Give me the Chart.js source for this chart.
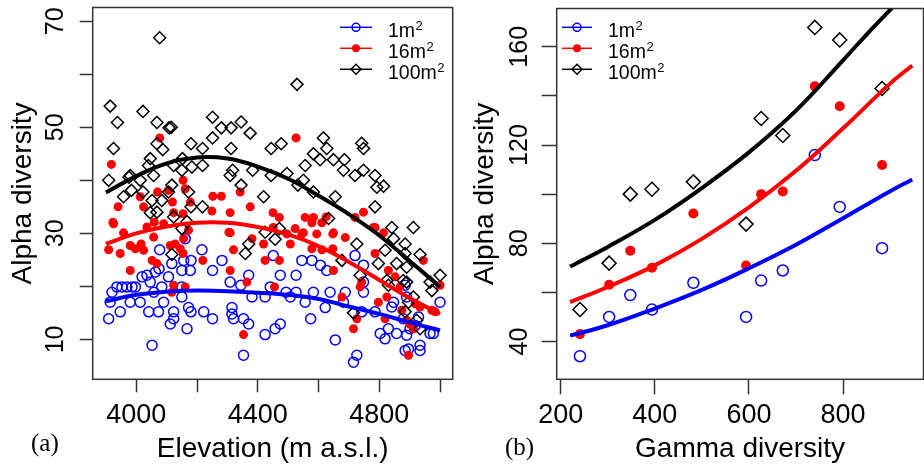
<!DOCTYPE html>
<html>
<head>
<meta charset="utf-8">
<script src="https://cdn.jsdelivr.net/npm/chart.js@4.4.0/dist/chart.umd.min.js"></script>
<style>
  html, body { margin: 0; padding: 0; background: #fff; overflow: hidden; }
  #wrap { position: relative; width: 924px; height: 467px; overflow: hidden; }
  #chartA { position: absolute; left: 0; top: 0; }
  #chartB { position: absolute; left: 462px; top: 0; }
</style>
</head>
<body>
<div id="wrap">
  <canvas id="chartA" width="462" height="467" style="width:462px;height:467px"></canvas>
  <canvas id="chartB" width="470" height="467" style="width:470px;height:467px"></canvas>
</div>
<script>
// ---------- panel (a): alpha diversity along elevation ----------
const elev1 = [3909, 3914, 3920, 3947, 3936, 3953, 3969, 3986, 3997, 3980, 4013, 4019, 4035, 4046, 4041, 4073,
  4052, 4063, 4077, 4084, 4090, 4106, 4117, 4123, 4112, 4123, 4150, 4156, 4150, 4150, 4167, 4172, 4178, 4180,
  4180, 4161, 4216, 4222, 4251, 4251, 4282, 4309, 4315, 4315, 4320, 4344, 4353, 4370, 4353, 4370, 4381, 4424,
  4424, 4441, 4451, 4457, 4474, 4474, 4493, 4507, 4526, 4526, 4545, 4556, 4574, 4578, 4583, 4606, 4622, 4627,
  4638, 4655, 4682, 4688, 4715, 4726, 4720, 4748, 4748, 4748, 4742, 4786, 4803, 4819, 4830, 4847, 4857, 4879,
  4885, 4896, 4890, 4901, 4918, 4934, 4934, 4929, 4890, 4885, 4967, 4978, 5000, 4841, 4058, 4075];
const alpha1 = [13.9, 17.0, 18.9, 15.2, 19.9, 19.9, 19.9, 19.9, 19.9, 17.0, 17.0, 21.8, 22.1, 20.8, 15.2, 15.2,
  8.9, 22.7, 26.9, 19.9, 17.0, 21.8, 24.3, 15.2, 12.9, 13.9, 23.0, 24.9, 19.9, 18.0, 12.0, 16.0, 23.0, 24.9,
  15.2, 29.0, 26.9, 15.2, 23.0, 13.9, 24.9, 20.8, 16.0, 14.8, 13.9, 20.2, 13.9, 12.9, 7.0, 22.1, 18.0, 18.0,
  10.9, 19.9, 25.8, 12.0, 12.9, 22.1, 18.9, 18.0, 22.1, 18.9, 24.9, 17.0, 13.9, 24.9, 18.9, 24.0, 16.0, 23.0,
  18.9, 9.9, 17.0, 18.9, 5.7, 7.0, 25.8, 24.0, 20.8, 18.9, 15.2, 15.2, 11.1, 10.1, 12.0, 17.0, 11.1, 13.9,
  7.9, 8.2, 10.8, 12.0, 12.6, 8.9, 7.9, 14.2, 18.0, 20.2, 11.1, 11.1, 17.0, 16.1, 18.9, 23.3];

const elev16 = [3918, 3940, 3923, 3958, 4013, 4024, 4059, 4035, 4077, 4070, 4106, 4119, 4154, 4161, 4154, 4123,
  4178, 4252, 4280, 4249, 4309, 4309, 4342, 4375, 4450, 4471, 4526, 4523, 4550, 4556, 4583, 4578, 4611, 4625,
  4649, 4688, 4720, 4748, 4786, 4814, 3909, 3925, 3947, 3980, 3997, 4016, 4024, 3980, 4057, 4052, 4068, 4090,
  4112, 4128, 4145, 4154, 4156, 4172, 4123, 4117, 4161, 4219, 4309, 4320, 4364, 4353, 4381, 4419, 4424, 4451,
  4471, 4455, 4496, 4507, 4545, 4578, 4594, 4611, 4647, 4647, 4649, 4677, 4726, 4715, 4737, 4742, 4781, 4786,
  4797, 4825, 4819, 4830, 4852, 4868, 4874, 4890, 4901, 4896, 4918, 4934, 4912, 4973, 4984, 5000, 4945, 4305];
const alpha16 = [43.0, 35.0, 32.1, 30.1, 36.9, 35.0, 32.1, 31.2, 48.0, 37.8, 38.1, 35.9, 40.0, 38.4, 33.7, 33.9,
  35.9, 37.0, 37.0, 34.2, 33.9, 30.1, 37.8, 35.0, 33.9, 33.0, 48.0, 30.9, 30.1, 33.0, 33.0, 32.0, 32.0, 33.1,
  30.1, 29.2, 33.0, 34.0, 31.1, 30.1, 26.9, 31.8, 26.2, 27.7, 27.1, 28.0, 26.8, 23.0, 29.3, 24.9, 24.3, 31.8,
  27.7, 28.0, 27.1, 26.2, 29.0, 30.6, 20.2, 18.9, 19.9, 24.9, 23.0, 26.9, 20.8, 10.9, 29.0, 28.0, 24.9, 31.1,
  24.9, 19.9, 29.9, 28.0, 29.9, 27.1, 29.9, 26.9, 29.9, 27.1, 23.0, 18.0, 13.9, 12.0, 19.9, 20.8, 31.1, 26.2,
  17.0, 18.0, 13.9, 23.0, 21.8, 19.9, 15.5, 13.6, 12.9, 7.0, 16.7, 16.1, 12.0, 15.5, 15.2, 20.2, 24.9, 30.2];

const elev100 = [3914, 3938, 3925, 3909, 4022, 4068, 4077, 4108, 4115, 4068, 4087, 4180, 4218, 4251, 4251, 4280,
  4312, 4345, 4375, 4312, 4444, 4477, 4529, 4616, 4627, 4583, 4605, 4649, 4685, 4742, 4748, 4682, 4720, 4748,
  4786, 4792, 4814, 4786, 4655, 4633, 4556, 4550, 4532, 4583, 4496, 4444, 4419, 4424, 4471, 4383, 4345, 4317,
  4309, 4218, 4183, 4152, 4150, 4123, 4057, 4040, 4046, 3980, 4013, 4022, 3984, 3958, 4052, 4068, 4084, 4106,
  4117, 4172, 4123, 4150, 4167, 4180, 4218, 4046, 4117, 4359, 4370, 4457, 4677, 4726, 4737, 4715, 4841, 4912,
  4847, 4885, 4819, 4885, 4934, 4797, 4857, 4890, 4879, 4890, 4825, 4830, 4967, 5000, 4973, 4896, 4912, 4885,
  4923, 4934, 3976];
const alpha100 = [54.0, 50.9, 46.0, 40.0, 53.0, 50.9, 66.9, 49.9, 50.0, 46.9, 45.8, 46.9, 46.0, 51.9, 48.0, 49.9,
  49.9, 51.0, 48.9, 46.0, 46.0, 46.9, 58.1, 48.0, 46.0, 45.0, 43.9, 43.9, 43.9, 47.0, 46.0, 41.9, 40.9, 41.9,
  40.9, 38.7, 38.9, 35.0, 36.9, 32.8, 42.8, 40.0, 39.1, 37.8, 41.3, 40.9, 36.9, 30.2, 30.9, 41.9, 39.1, 41.9,
  40.9, 42.8, 42.5, 44.1, 41.9, 42.8, 40.9, 42.8, 44.1, 40.9, 40.0, 37.8, 38.1, 36.9, 36.2, 34.0, 36.2, 37.8,
  39.1, 37.8, 33.1, 30.9, 32.2, 35.0, 35.0, 33.9, 26.0, 26.2, 28.0, 28.9, 24.9, 28.0, 22.1, 15.0, 31.1, 31.1,
  29.0, 28.0, 26.8, 26.2, 26.0, 24.3, 24.3, 23.6, 21.1, 20.8, 21.1, 20.2, 20.8, 22.1, 19.2, 17.0, 18.0, 15.2,
  13.6, 12.0, 40.6];

// fitted curves
const elevFit = [3900, 4000, 4100, 4200, 4300, 4400, 4500, 4600, 4700, 4800, 4900, 5000];
const fitA1 = [17.2, 18.4, 19.0, 19.2, 19.1, 18.8, 18.4, 17.6, 16.2, 14.8, 13.2, 11.7];
const fitA16 = [28.0, 30.0, 31.3, 32.0, 32.0, 31.2, 29.8, 27.6, 24.6, 21.2, 17.8, 14.8];
const fitA100 = [37.7, 40.8, 43.2, 44.3, 44.1, 42.6, 40.3, 37.1, 33.6, 29.6, 24.8, 19.9];

const aXTicks = [4000, 4200, 4400, 4600, 4800, 5000];
const aXLabels = [4000, 4400, 4800];
const aYTicks = [10, 20, 30, 40, 50, 60, 70];
const aYLabels = [10, 30, 50, 70];

// ---------- panel (b): alpha vs gamma diversity ----------
const gamma = [241, 303, 348, 394, 482, 594, 626, 672, 740, 793, 883];
const bAlpha1 = [34.0, 50.0, 58.9, 53.0, 63.9, 50.0, 64.8, 68.9, 115.9, 94.8, 78.0];
const bAlpha16 = [43.0, 63.1, 77.0, 70.0, 92.1, 70.9, 100.0, 101.1, 143.9, 135.8, 111.9];
const bAlpha100 = [53.0, 71.9, 100.0, 102.0, 105.0, 87.8, 130.8, 123.9, 167.9, 162.8, 143.0];

const gammaFit = [220, 300, 400, 500, 600, 700, 800, 900, 947];
const fitB1 = [42.4, 46.6, 53.4, 61.0, 69.8, 79.4, 90.2, 101.2, 106.0];
const fitB16 = [56.0, 62.2, 71.0, 81.8, 94.6, 109.5, 126.8, 145.0, 152.4];
const gammaFit100 = [220, 300, 400, 500, 600, 700, 800, 850, 910];
const fitB100 = [70.5, 78.5, 89.5, 102.5, 117.0, 134.0, 154.5, 165.0, 177.0];

const bXTicks = [200, 400, 600, 800];
const bXLabels = [200, 400, 600, 800];
const bYTicks = [40, 60, 80, 100, 120, 140, 160];
const bYLabels = [40, 80, 120, 160];

const BLUE = '#0000ff', RED = '#ff0000', BLACK = '#000000';
const SANS = '"Liberation Sans", Arial, Helvetica, sans-serif';
const SERIF = '"Liberation Serif", "Times New Roman", serif';

Chart.defaults.font.family = SANS;
Chart.defaults.color = '#000';

function pts(xs, ys) {
  return xs.map((x, i) => ({ x: x, y: ys[i] }));
}

// box round the plot region
const frame = {
  id: 'frame',
  afterDraw(chart) {
    const a = chart.chartArea, ctx = chart.ctx;
    ctx.save();
    ctx.strokeStyle = '#333';
    ctx.lineWidth = 1.5;
    ctx.strokeRect(a.left, a.top, a.right - a.left, a.bottom - a.top);
    ctx.restore();
  }
};

// legend drawn inside the plot, R style (line through the symbol, m with superscript 2)
const boxLegend = {
  id: 'boxLegend',
  afterDraw(chart, args, opts) {
    const ctx = chart.ctx;
    const items = chart.data.datasets.filter(d => d.label);
    ctx.save();
    items.forEach((d, i) => {
      const y = opts.y + i * opts.gap;
      ctx.strokeStyle = d.borderColor;
      ctx.lineWidth = 1.5;
      ctx.beginPath();
      ctx.moveTo(opts.x, y);
      ctx.lineTo(opts.x + opts.len, y);
      ctx.stroke();
      ctx.fillStyle = d.backgroundColor;
      Chart.helpers.drawPoint(ctx, {
        pointStyle: d.pointStyle, radius: d.pointStyle === 'rectRot' ? 5 : 4,
        borderWidth: d.borderWidth > 0 ? 1.2 : 0, rotation: 0
      }, opts.x + opts.len / 2, y);

      const base = d.label.replace('\u00b2', '');
      const tx = opts.x + opts.len + opts.textGap;
      ctx.fillStyle = '#000';
      ctx.textBaseline = 'alphabetic';
      ctx.textAlign = 'left';
      ctx.font = opts.size + 'px ' + SANS;
      ctx.fillText(base, tx, y + 10);
      const w = ctx.measureText(base).width;
      ctx.font = Math.round(opts.size * 0.68) + 'px ' + SANS;
      ctx.fillText('2', tx + w + 0.5, y + 3);
    });
    ctx.restore();
  }
};

// panel tag "(a)" / "(b)"
const panelTag = {
  id: 'panelTag',
  afterDraw(chart, args, opts) {
    const ctx = chart.ctx;
    ctx.save();
    ctx.fillStyle = '#000';
    ctx.font = '25px ' + SERIF;
    ctx.textBaseline = 'alphabetic';
    ctx.fillText(opts.text, opts.x, opts.y);
    ctx.restore();
  }
};

// r: c = open circle radius, d = dot radius, r = diamond half-diagonal
function scatterSets(x1, y1, x16, y16, x100, y100, r) {
  return [
    { label: '1m\u00b2', data: pts(x1, y1), pointStyle: 'circle', pointRadius: r.c, borderWidth: 1.5,
      borderColor: BLUE, backgroundColor: 'rgba(0,0,0,0)', order: 6 },
    { label: '16m\u00b2', data: pts(x16, y16), pointStyle: 'circle', pointRadius: r.d, borderWidth: 0,
      borderColor: RED, backgroundColor: RED, order: 5 },
    { label: '100m\u00b2', data: pts(x100, y100), pointStyle: 'rectRot', pointRadius: r.r, borderWidth: 1.5,
      borderColor: BLACK, backgroundColor: 'rgba(0,0,0,0)', order: 4 }
  ];
}

function fitSet(xs, ys, color, order) {
  return { data: pts(xs, ys), showLine: true, pointRadius: 0, borderWidth: 4, borderColor: color,
    tension: 0.4, clip: 0, order: order };
}

function axes(o) {
  return {
    x: {
      type: 'linear', min: o.xMin, max: o.xMax,
      afterBuildTicks: s => { s.ticks = o.xTicks.map(v => ({ value: v })); },
      afterFit: s => { s.height = o.xHeight; s.paddingLeft = 0; s.paddingRight = 0; },
      border: { display: false },
      grid: { drawOnChartArea: false, drawTicks: true, tickLength: o.tl, tickWidth: 1.5, tickColor: '#333' },
      ticks: { autoSkip: false, maxRotation: 0, padding: o.xPad, color: '#000', font: { size: 27 },
        callback: v => o.xLabels.includes(v) ? String(v) : '' },
      title: { display: true, text: o.xTitle, color: '#000', font: { size: 28 }, padding: { top: 0, bottom: 1 } }
    },
    y: {
      type: 'linear', min: o.yMin, max: o.yMax,
      afterBuildTicks: s => { s.ticks = o.yTicks.map(v => ({ value: v })); },
      afterFit: s => { s.width = o.yWidth; s.paddingTop = 0; s.paddingBottom = 0; },
      border: { display: false },
      grid: { drawOnChartArea: false, drawTicks: true, tickLength: o.tl, tickWidth: 1.5, tickColor: '#333' },
      ticks: { autoSkip: false, minRotation: 90, maxRotation: 90, crossAlign: 'center', padding: o.yPad,
        color: '#000', font: { size: 25 },
        callback: v => o.yLabels.includes(v) ? String(v) : '' },
      title: { display: true, text: 'Alpha diversity', color: '#000', font: { size: 28 }, padding: { top: 6.5, bottom: 0 } }
    }
  };
}

function baseOptions(o) {
  return {
    responsive: false,
    animation: false,
    events: [],
    layout: { padding: { left: 0, top: 6.7, right: o.padRight, bottom: 0 } },
    scales: axes(o),
    plugins: {
      legend: { display: false },
      tooltip: { enabled: false },
      boxLegend: o.legend,
      panelTag: o.tag
    }
  };
}

// chart (a)
new Chart(document.getElementById('chartA'), {
  type: 'scatter',
  data: {
    datasets: [
      ...scatterSets(elev1, alpha1, elev16, alpha16, elev100, alpha100, { c: 5, d: 4.5, r: 6 }),
      fitSet(elevFit, fitA1, BLUE, 3),
      fitSet(elevFit, fitA16, RED, 2),
      fitSet(elevFit, fitA100, BLACK, 1)
    ]
  },
  options: baseOptions({
    xMin: 3856.5, xMax: 5041.6, yMin: 2.47, yMax: 72.6,
    xTicks: aXTicks, xLabels: aXLabels, yTicks: aYTicks, yLabels: aYLabels,
    xHeight: 87.7, yWidth: 92.7, tl: 13, xPad: 7, yPad: 9.5, padRight: 9.3,
    xTitle: 'Elevation (m a.s.l.)',
    legend: { x: 340, y: 27.3, gap: 21, len: 32, textGap: 16, size: 19.5 },
    tag: { text: '(a)', x: 31, y: 451 }
  }),
  plugins: [frame, boxLegend, panelTag]
});

// chart (b)
new Chart(document.getElementById('chartB'), {
  type: 'scatter',
  data: {
    datasets: [
      ...scatterSets(gamma, bAlpha1, gamma, bAlpha16, gamma, bAlpha100, { c: 5.5, d: 5, r: 7 }),
      fitSet(gammaFit, fitB1, BLUE, 3),
      fitSet(gammaFit, fitB16, RED, 2),
      fitSet(gammaFit100, fitB100, BLACK, 1)
    ]
  },
  options: baseOptions({
    xMin: 191.6, xMax: 971, yMin: 24.6, yMax: 175.6,
    xTicks: bXTicks, xLabels: bXLabels, yTicks: bYTicks, yLabels: bYLabels,
    xHeight: 87.7, yWidth: 94.7, tl: 15, xPad: 5, yPad: 0.8, padRight: 6,
    xTitle: 'Gamma diversity',
    legend: { x: 100, y: 27.3, gap: 21, len: 30, textGap: 16, size: 19.5 },
    tag: { text: '(b)', x: 43, y: 455 }
  }),
  plugins: [frame, boxLegend, panelTag]
});
</script>
</body>
</html>
